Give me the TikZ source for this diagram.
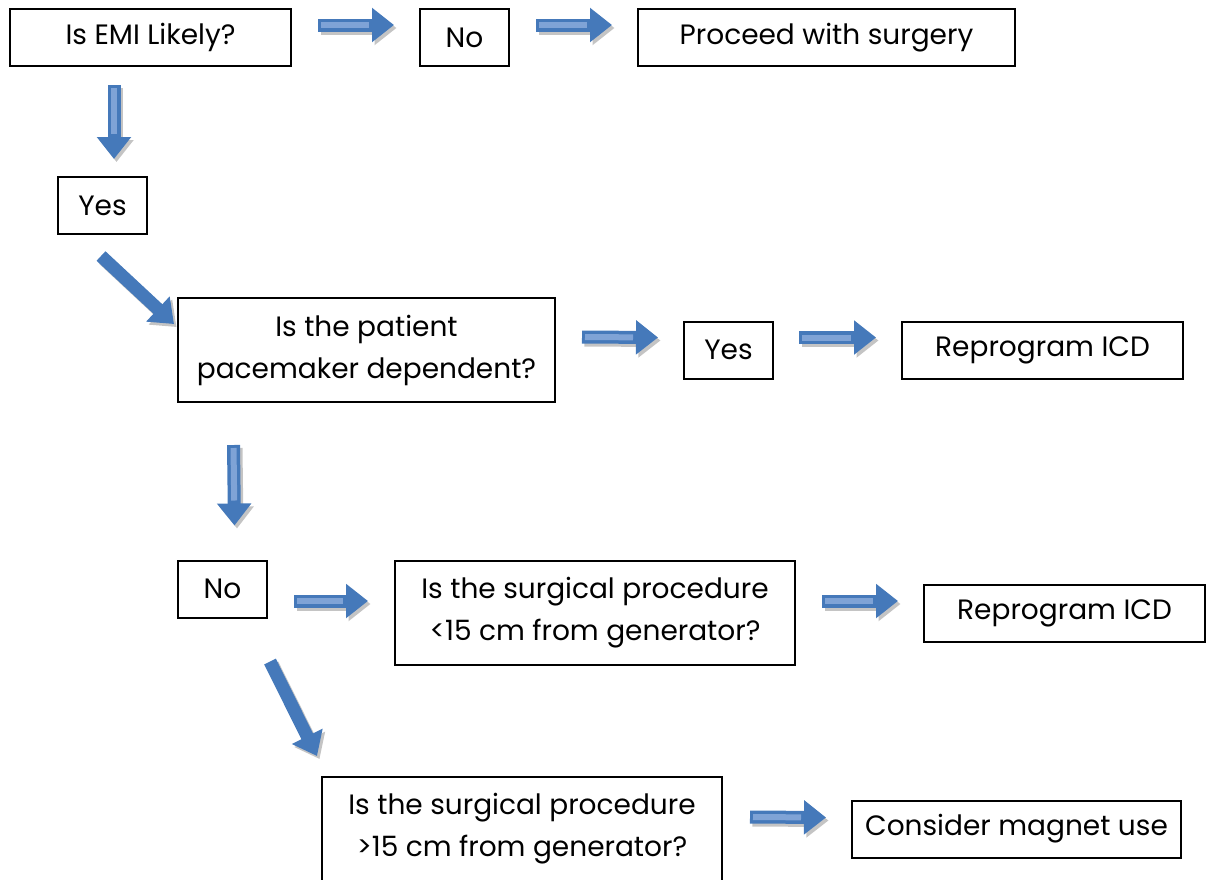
\documentclass[tikz,border=0pt]{standalone}
\usepackage{fontspec}
\setmainfont{Poppins}
\usepackage{tikz}
\usetikzlibrary{arrows.meta, positioning}
\definecolor{arrowblue}{HTML}{4579BA}
\definecolor{arrowshine}{HTML}{7FA3D6}
\definecolor{arrowshadow}{HTML}{C4C4C4}

% block arrow with shadow and a lighter stripe in the shaft
\newcommand{\flowarrow}[2]{%
  \draw[bigshadow] #1 -- #2;
  \draw[bigarrow] #1 -- #2;
  \draw[shine] #1 -- #2;
}
% same, without the stripe (slanted ones)
\newcommand{\slantarrow}[2]{%
  \draw[bigshadow] #1 -- #2;
  \draw[bigarrow] #1 -- #2;
}

\begin{document}
\begin{tikzpicture}[
    x=1pt, y=-1pt,
    box/.style={rectangle, draw=black, line width=2pt, minimum height=57pt,
      align=center, font=\fontsize{28}{42}\selectfont, inner sep=0pt},
    tallbox/.style={box, minimum height=104pt},
    bigarrow/.style={draw=arrowblue, line width=13pt,
      -{Triangle[width=33pt, length=22pt]}},
    bigshadow/.style={bigarrow, draw=arrowshadow,
      transform canvas={xshift=2.5pt, yshift=-3pt}},
    shine/.style={draw=arrowshine, line width=6pt, shorten <=3pt, shorten >=25pt}
  ]
  \useasboundingbox (0,0) rectangle (1207,879);

  % first row
  \node[box, minimum width=281pt] (emi) at (150.5,37.5) {Is EMI Likely?};
  \node[box, minimum width=89pt, right=127pt of emi] (no1) {No};
  \node[box, minimum width=377pt, right=127pt of no1] (proceed) {Proceed with surgery};

  \node[box, minimum width=89pt] (yes1) at (102.5,205.5) {Yes};

  % pacemaker question
  \node[tallbox, minimum width=377pt] (depend) at (366.5,350)
    {Is the patient\\pacemaker dependent?};
  \node[box, minimum width=89pt, right=127pt of depend] (yes2) {Yes};
  \node[box, minimum width=281pt, right=127pt of yes2] (reprog1) {Reprogram ICD};

  % distance questions
  \node[box, minimum width=89pt] (no2) at (222.5,589) {No};
  \node[tallbox, minimum width=400pt] (near) at (595,613)
    {Is the surgical procedure\\<15 cm from generator?};
  \node[box, minimum width=281pt, right=127pt of near] (reprog2) {Reprogram ICD};

  \node[tallbox, minimum width=400pt] (far) at (522,829)
    {Is the surgical procedure\\>15 cm from generator?};
  \node[box, minimum width=329pt, right=128pt of far] (magnet) {Consider magnet use};

  % arrows
  \flowarrow{([xshift=26pt, yshift=12.5pt]emi.east)}{([xshift=-25pt, yshift=12.5pt]no1.west)}
  \flowarrow{([xshift=26pt, yshift=12.5pt]no1.east)}{([xshift=-25pt, yshift=12.5pt]proceed.west)}
  \flowarrow{([xshift=-36.5pt, yshift=-18pt]emi.south)}{([xshift=11.5pt, yshift=17pt]yes1.north)}
  \slantarrow{([xshift=-1.5pt, yshift=-21pt]yes1.south)}{([xshift=-3pt, yshift=-27pt]depend.north west)}
  \flowarrow{([xshift=26pt, yshift=13pt]depend.east)}{([xshift=-25pt, yshift=12.5pt]yes2.west)}
  \flowarrow{([xshift=25pt, yshift=12.5pt]yes2.east)}{([xshift=-25pt, yshift=12.5pt]reprog1.west)}
  \flowarrow{([xshift=-133pt, yshift=-42pt]depend.south)}{([xshift=12pt, yshift=34pt]no2.north)}
  \flowarrow{([xshift=26pt, yshift=-12pt]no2.east)}{([xshift=-26pt, yshift=12pt]near.west)}
  \flowarrow{([xshift=26pt, yshift=12pt]near.east)}{([xshift=-25pt, yshift=12pt]reprog2.west)}
  \slantarrow{([xshift=47.5pt, yshift=-43pt]no2.south)}{([xshift=-4pt, yshift=20pt]far.north west)}
  \flowarrow{([xshift=27pt, yshift=12pt]far.east)}{([xshift=-25pt, yshift=11.5pt]magnet.west)}
\end{tikzpicture}
\end{document}
